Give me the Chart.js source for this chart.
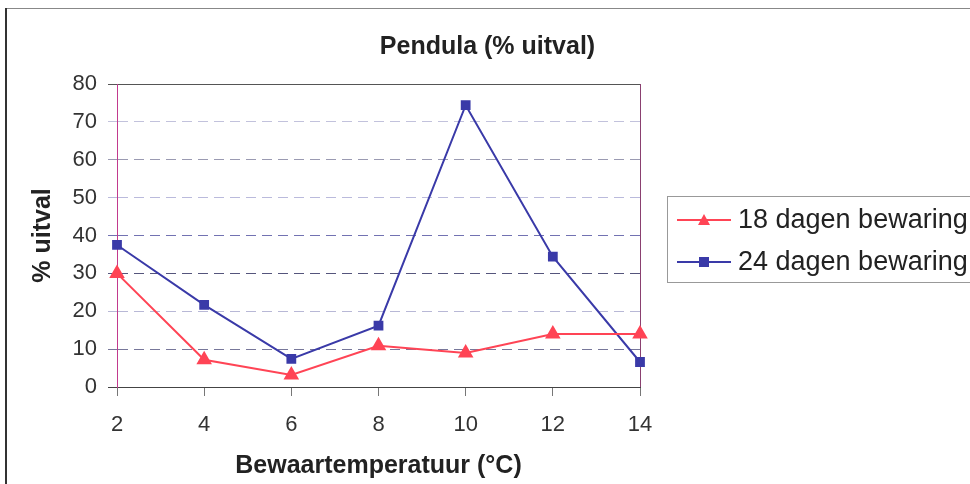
<!DOCTYPE html>
<html>
<head>
<meta charset="utf-8">
<script src="https://cdn.jsdelivr.net/npm/chart.js@4/dist/chart.umd.min.js"></script>
<style>
  html, body { margin: 0; padding: 0; background: #fff; }
  #wrap { width: 970px; height: 484px; }
</style>
</head>
<body>
<div id="wrap"><canvas id="c" width="970" height="484"></canvas></div>
<script>
const temps = ["2", "4", "6", "8", "10", "12", "14"];
const dagen18 = [30, 7.2, 3.2, 10.9, 9, 14, 14];
const dagen24 = [37.5, 21.7, 7.4, 16.2, 74.4, 34.4, 6.6];
const yTicks = [0, 10, 20, 30, 40, 50, 60, 70, 80];

const RED = "#ff4455";
const BLUE = "#3a3aa8";

// kleur per rasterlijn, zoals in het origineel
const gridColors = {
    0: "#444444", 10: "#77779a", 20: "#b8b8d6", 30: "#55557c", 40: "#7272b2",
    50: "#babadc", 60: "#9a9ab2", 70: "#c2c2dc", 80: "#555555"
};

const frame = {
    id: "frame",
    beforeDraw(chart) {
        const ctx = chart.ctx;
        ctx.save();
        ctx.fillStyle = "#fff";
        ctx.fillRect(0, 0, chart.width, chart.height);
        ctx.strokeStyle = "#888";
        ctx.lineWidth = 1;
        ctx.beginPath();
        ctx.moveTo(6, 8.5);
        ctx.lineTo(chart.width, 8.5);
        ctx.stroke();
        ctx.strokeStyle = "#333";
        ctx.lineWidth = 2;
        ctx.beginPath();
        ctx.moveTo(6, 8);
        ctx.lineTo(6, chart.height);
        ctx.stroke();
        ctx.restore();
    }
};

// legenda met lijn + marker, rechts naast de grafiek
const sideLegend = {
    id: "sideLegend",
    afterDraw(chart) {
        const ctx = chart.ctx;
        ctx.save();
        ctx.strokeStyle = "#999";
        ctx.lineWidth = 1;
        ctx.strokeRect(667.5, 196.5, 400, 86);
        const rows = [220, 262];
        chart.data.datasets.forEach((ds, i) => {
            const y = rows[i];
            ctx.strokeStyle = ds.borderColor;
            ctx.lineWidth = 2;
            ctx.beginPath();
            ctx.moveTo(677, y);
            ctx.lineTo(731, y);
            ctx.stroke();
            ctx.fillStyle = ds.pointBackgroundColor;
            ctx.beginPath();
            if (ds.pointStyle === "triangle") {
                ctx.moveTo(704, y - 6);
                ctx.lineTo(710, y + 5);
                ctx.lineTo(698, y + 5);
            } else {
                ctx.rect(699, y - 5, 10, 10);
            }
            ctx.closePath();
            ctx.fill();
            ctx.fillStyle = "#222";
            ctx.font = "27px 'Liberation Sans', Arial, sans-serif";
            ctx.textBaseline = "middle";
            ctx.fillText(ds.label, 738, y + 1);
        });
        ctx.restore();
    }
};

new Chart(document.getElementById("c"), {
    type: "line",
    data: {
        labels: temps,
        datasets: [
            {
                label: "18 dagen bewaring",
                data: dagen18,
                borderColor: RED,
                backgroundColor: RED,
                pointBackgroundColor: RED,
                pointBorderColor: RED,
                pointStyle: "triangle",
                pointRadius: 7,
                borderWidth: 2,
                tension: 0
            },
            {
                label: "24 dagen bewaring",
                data: dagen24,
                borderColor: BLUE,
                backgroundColor: BLUE,
                pointBackgroundColor: BLUE,
                pointBorderColor: BLUE,
                pointStyle: "rect",
                pointRadius: 5.5,
                borderWidth: 2,
                tension: 0
            }
        ]
    },
    options: {
        responsive: false,
        animation: false,
        layout: { padding: { left: 5, right: 0, top: 0, bottom: 0 } },
        plugins: {
            legend: { display: false },
            tooltip: { enabled: false },
            title: {
                display: true,
                text: "Pendula (% uitval)",
                color: "#222",
                font: { family: "'Liberation Sans', Arial, sans-serif", size: 25, weight: "bold" },
                padding: { top: 32, bottom: 22 }
            }
        },
        scales: {
            x: {
                type: "category",
                offset: false,
                afterFit(scale) { scale.height = 97; },
                grid: {
                    drawOnChartArea: true,
                    tickLength: 9,
                    tickColor: "#777",
                    color: (c) => (c.index === temps.length - 1 ? "#8a4070" : "rgba(0,0,0,0)")
                },
                border: { display: true, color: "#444", width: 1 },
                ticks: {
                    color: "#333",
                    padding: 16,
                    maxRotation: 0,
                    font: { family: "'Liberation Sans', Arial, sans-serif", size: 22 }
                },
                title: {
                    display: true,
                    text: "Bewaartemperatuur (°C)",
                    color: "#222",
                    font: { family: "'Liberation Sans', Arial, sans-serif", size: 25, weight: "bold" },
                    padding: { top: 0, bottom: 3 }
                }
            },
            y: {
                min: 0,
                max: 80,
                afterFit(scale) { scale.width = 112; },
                afterBuildTicks(scale) { scale.ticks = yTicks.map(v => ({ value: v })); },
                grid: {
                    tickLength: 9,
                    color: (c) => gridColors[c.tick.value] || "#aaa",
                    tickColor: (c) => gridColors[c.tick.value] || "#aaa"
                },
                border: {
                    display: true,
                    color: "#c23a8e",
                    width: 1,
                    dash: (c) => (c.tick && (c.tick.value === 0 || c.tick.value === 80) ? [] : [10, 6])
                },
                ticks: {
                    color: "#333",
                    padding: 11,
                    font: { family: "'Liberation Sans', Arial, sans-serif", size: 22 }
                },
                title: {
                    display: true,
                    text: "% uitval",
                    color: "#222",
                    font: { family: "'Liberation Sans', Arial, sans-serif", size: 25, weight: "bold" },
                    padding: { top: 23, bottom: 0 }
                }
            },
            // lege ruimte rechts voor de legenda
            ruimte: {
                type: "linear",
                position: "right",
                display: true,
                afterFit(scale) { scale.width = 330; },
                grid: { display: false, drawOnChartArea: false },
                border: { display: false },
                ticks: { display: false }
            }
        }
    },
    plugins: [frame, sideLegend]
});
</script>
</body>
</html>
